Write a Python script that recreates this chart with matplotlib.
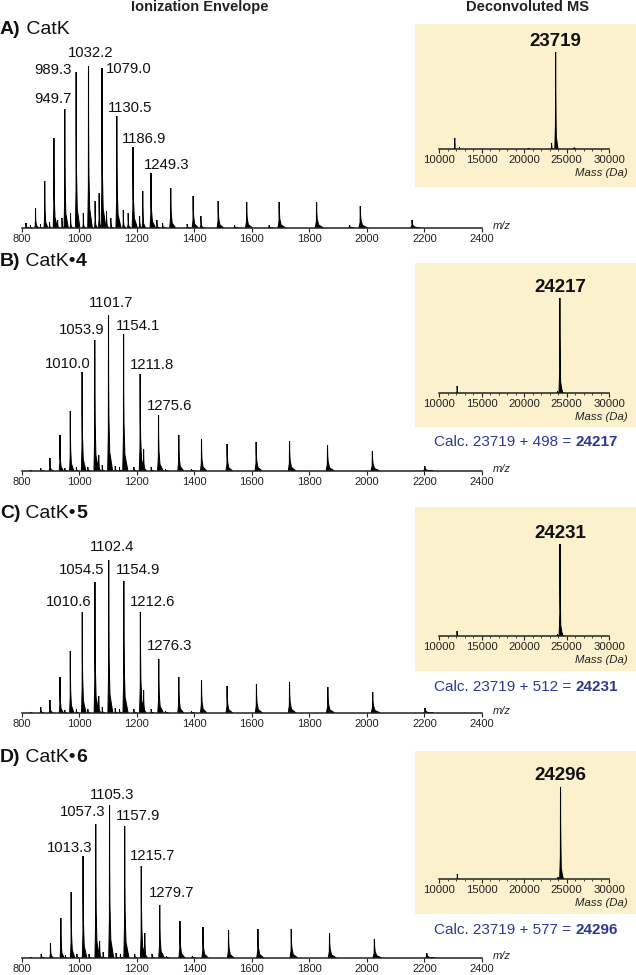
import matplotlib.pyplot as plt
from matplotlib.ticker import MultipleLocator
from matplotlib.patches import Rectangle

plt.rcParams['font.family'] = ['Liberation Sans', 'DejaVu Sans']

W, H = 636, 975

# ---- values ----
panel_tags = ['A)', 'B)', 'C)', 'D)']
ligands = ['', '4', '5', '6']

# charge-state envelope, m/z and height (relative units)
mz_a = [815, 848, 880, 912, 949.7, 989.3, 1032.2, 1079.0, 1130.5, 1186.9, 1249.3,
        1318, 1396, 1483, 1582, 1695, 1825, 1977, 2157]
h_a = [5, 20, 47, 90, 119, 156, 162, 160, 112, 81, 55, 40, 32, 27, 26, 26, 26, 22, 8]
mz_a_minor = [830, 865, 897, 925, 940, 970, 1014, 1055, 1069, 1095, 1110, 1153, 1170,
              1210, 1221, 1270, 1290, 1375, 1423, 1540, 1660, 1940]
h_a_minor = [3, 4, 6, 8, 10, 15, 15, 27, 35, 17, 10, 18, 15, 12, 37, 8, 5, 4, 12, 3, 3, 3]

mz_b = [866, 898, 933, 969, 1010.0, 1053.9, 1101.7, 1154.1, 1211.8, 1275.6, 1346, 1425,
        1514, 1615, 1731, 1863, 2019, 2201]
h_b = [3, 13, 36, 60, 99, 131, 156, 137, 97, 56, 36, 32, 27, 29, 30, 26, 20, 5]
mz_b_minor = [830, 950, 990, 1030, 1068, 1080, 1125, 1140, 1190, 1224, 1250, 1300, 1390]
h_b_minor = [1, 3, 4, 4, 16, 6, 5, 4, 4, 22, 4, 2, 2]

mz_c = [866, 898, 933, 969, 1010.6, 1054.5, 1102.4, 1154.9, 1212.6, 1276.3, 1346, 1425,
        1514, 1616, 1731, 1864, 2020, 2202]
h_c = [6, 13, 36, 62, 101, 131, 153, 132, 101, 54, 36, 33, 27, 29, 31, 26, 21, 5]
mz_c_minor = [830, 950, 990, 1030, 1068, 1080, 1125, 1140, 1190, 1224, 1250, 1300, 1390]
h_c_minor = [1, 3, 4, 4, 17, 6, 5, 4, 4, 23, 4, 2, 2]

mz_d = [868, 900, 936, 972, 1013.3, 1057.3, 1105.3, 1157.9, 1215.7, 1279.7, 1350, 1430,
        1519, 1621, 1737, 1870, 2026, 2208]
h_d = [4, 15, 40, 66, 102, 134, 153, 132, 92, 53, 37, 31, 28, 29, 29, 25, 19, 5]
mz_d_minor = [830, 952, 992, 1034, 1071, 1083, 1128, 1143, 1193, 1228, 1253, 1303, 1393]
h_d_minor = [1, 3, 4, 4, 17, 6, 5, 4, 4, 25, 4, 2, 2]

# labelled peaks
lab_a = ['949.7', '989.3', '1032.2', '1079.0', '1130.5', '1186.9', '1249.3']
lab_b = ['1010.0', '1053.9', '1101.7', '1154.1', '1211.8', '1275.6']
lab_c = ['1010.6', '1054.5', '1102.4', '1154.9', '1212.6', '1276.3']
lab_d = ['1013.3', '1057.3', '1105.3', '1157.9', '1215.7', '1279.7']

# deconvoluted masses
mass_main = [23719, 24217, 24231, 24296]
mass_main_h = [97, 95, 92, 92]
mass_minor = [[11860, 12400, 23250, 23900, 20500, 25900],
              [12130, 23950, 24500],
              [12120, 23950, 24500],
              [12150, 24000, 24550]]
mass_minor_h = [[11, 2, 6, 5, 1, 1.5],
                [7, 2, 3],
                [5, 2, 3],
                [5, 2, 3]]
calc_base = 23719
calc_add = [None, 498, 512, 577]

main_ticks = [800, 1000, 1200, 1400, 1600, 1800, 2000, 2200, 2400]
mass_ticks = [10000, 15000, 20000, 25000, 30000]

spectra = [(mz_a, h_a, mz_a_minor, h_a_minor, lab_a),
           (mz_b, h_b, mz_b_minor, h_b_minor, lab_b),
           (mz_c, h_c, mz_c_minor, h_c_minor, lab_c),
           (mz_d, h_d, mz_d_minor, h_d_minor, lab_d)]

# ---- layout (pixels) ----
title_y = [29, 262, 513, 757]
base_y = [228, 471, 713, 958]
box_top = [24, 263, 507, 751]
box_bot = [187, 427, 671, 914]
inset_base = [149, 393, 636, 879]
calc_y = [None, 442, 687, 930]
# label anchors: (x in m/z, y, ha) per panel
lab_pos = [
    [(973, 129, 'right'), (973, 158, 'right'), (1038, 175, 'center'), (1094, 159, 'left'),
     (1098, 120, 'left'), (1149, 89, 'left'), (1224, 63, 'left')],
    [(1041, 107, 'right'), (1088, 141, 'right'), (1109, 168, 'center'), (1129, 145, 'left'),
     (1175, 106, 'left'), (1234, 65, 'left')],
    [(1041, 111, 'right'), (1088, 143, 'right'), (1114, 166, 'center'), (1129, 143, 'left'),
     (1176, 111, 'left'), (1234, 67, 'left')],
    [(1046, 110, 'right'), (1090, 146, 'right'), (1115, 163, 'center'), (1128, 142, 'left'),
     (1176, 102, 'left'), (1242, 65, 'left')],
]

BEIGE = '#fcf1cd'
NAVY = '#2b3a8f'

fig = plt.figure(figsize=(W / 100, H / 100), dpi=100)
bg = fig.add_axes([0, 0, 1, 1])
bg.set_xlim(0, W)
bg.set_ylim(H, 0)
bg.axis('off')


def px_axes(left, top, right, bottom):
    return fig.add_axes([left / W, 1 - bottom / H, (right - left) / W, (bottom - top) / H])


def draw_peaks(ax, xs_, hs_, side, tail, lw=0.75):
    for x, y in zip(xs_, hs_):
        w = x * side
        t = x * tail
        xs = [x - w, x - 0.15 * w, x, x + 0.15 * w, x + 0.5 * w, x + 0.3 * t, x + t]
        ys = [0, 0.25 * y, y, 0.6 * y, 0.35 * y, 0.12 * y, 0]
        ax.fill(xs, ys, color='k', lw=lw)


def style_axis(ax, ymax):
    ax.set_ylim(0, ymax)
    ax.patch.set_alpha(0)
    for s in ['top', 'right', 'left']:
        ax.spines[s].set_visible(False)
    ax.spines['bottom'].set_linewidth(1.1)
    ax.spines['bottom'].set_color('#222222')
    ax.set_yticks([])


# headers
bg.text(200, 7, 'Ionization Envelope', ha='center', va='center', fontsize=10.5,
        weight='bold', color='#222222')
bg.text(528, 7, 'Deconvoluted MS', ha='center', va='center', fontsize=10.5,
        weight='bold', color='#222222')

for i in range(4):
    mz, hh, mzm, hm, labs = spectra[i]

    # panel title
    t = bg.text(0, title_y[i], panel_tags[i], ha='left', va='center', fontsize=14,
                weight='bold', color='#111111')
    t2 = bg.annotate(' CatK' + ('\u2022' if ligands[i] else ''), xy=(1, 0), xycoords=t,
                     ha='left', va='bottom', fontsize=14, color='#111111')
    if ligands[i]:
        bg.annotate(ligands[i], xy=(1, 0), xycoords=t2, ha='left', va='bottom',
                    fontsize=14, weight='bold', color='#111111')

    # ionization envelope
    ax = px_axes(21.7, base_y[i] - 190, 482, base_y[i])
    style_axis(ax, 190)
    ax.set_xlim(800, 2400)
    draw_peaks(ax, mzm, hm, 0.002, 0.008, lw=0.6)
    draw_peaks(ax, mz, hh, 0.0025, 0.013)
    ax.set_xticks(main_ticks)
    ax.tick_params(axis='x', direction='out', length=3, width=0.8, pad=1.5,
                   labelsize=8, colors='#222222')
    for lab, (lx, ly, ha) in zip(labs, lab_pos[i]):
        ax.text(lx, ly, lab, ha=ha, va='center', fontsize=10.7, color='#111111',
                clip_on=False)
    bg.text(493, base_y[i] - 2, 'm/z', ha='left', va='center', fontsize=8,
            style='italic', color='#222222')

    # deconvoluted inset
    bg.add_patch(Rectangle((415, box_top[i]), W - 415, box_bot[i] - box_top[i],
                           facecolor=BEIGE, edgecolor='none'))
    ins = px_axes(439, inset_base[i] - 120, 609, inset_base[i])
    style_axis(ins, 120)
    ins.set_xlim(10000, 30000)
    draw_peaks(ins, mass_minor[i], mass_minor_h[i], 0.004, 0.008, lw=0.6)
    draw_peaks(ins, [mass_main[i]], [mass_main_h[i]], 0.004, 0.012)
    ins.set_xticks(mass_ticks)
    ins.xaxis.set_minor_locator(MultipleLocator(1000))
    ins.tick_params(axis='x', which='major', direction='out', length=3, width=0.8,
                    pad=1.5, labelsize=8.2, colors='#222222')
    ins.tick_params(axis='x', which='minor', direction='out', length=1.5, width=0.6,
                    colors='#222222')
    ins.text(mass_main[i], mass_main_h[i] + 11, str(mass_main[i]), ha='center',
             va='center', fontsize=13.5, weight='bold', color='#111111')
    bg.text(628, inset_base[i] + 24, 'Mass (Da)', ha='right', va='center', fontsize=8.2,
            style='italic', color='#222222')

    # calculated mass
    if calc_add[i] is not None:
        c1 = bg.text(434, calc_y[i], 'Calc. %d + %d =' % (calc_base, calc_add[i]),
                     ha='left', va='center', fontsize=11, color=NAVY)
        bg.annotate(str(calc_base + calc_add[i]), xy=(1, 0.5), xycoords=c1,
                    xytext=(3, 0), textcoords='offset points', ha='left', va='center',
                    fontsize=11, weight='bold', color=NAVY)

fig.savefig('out.png', dpi=100)
